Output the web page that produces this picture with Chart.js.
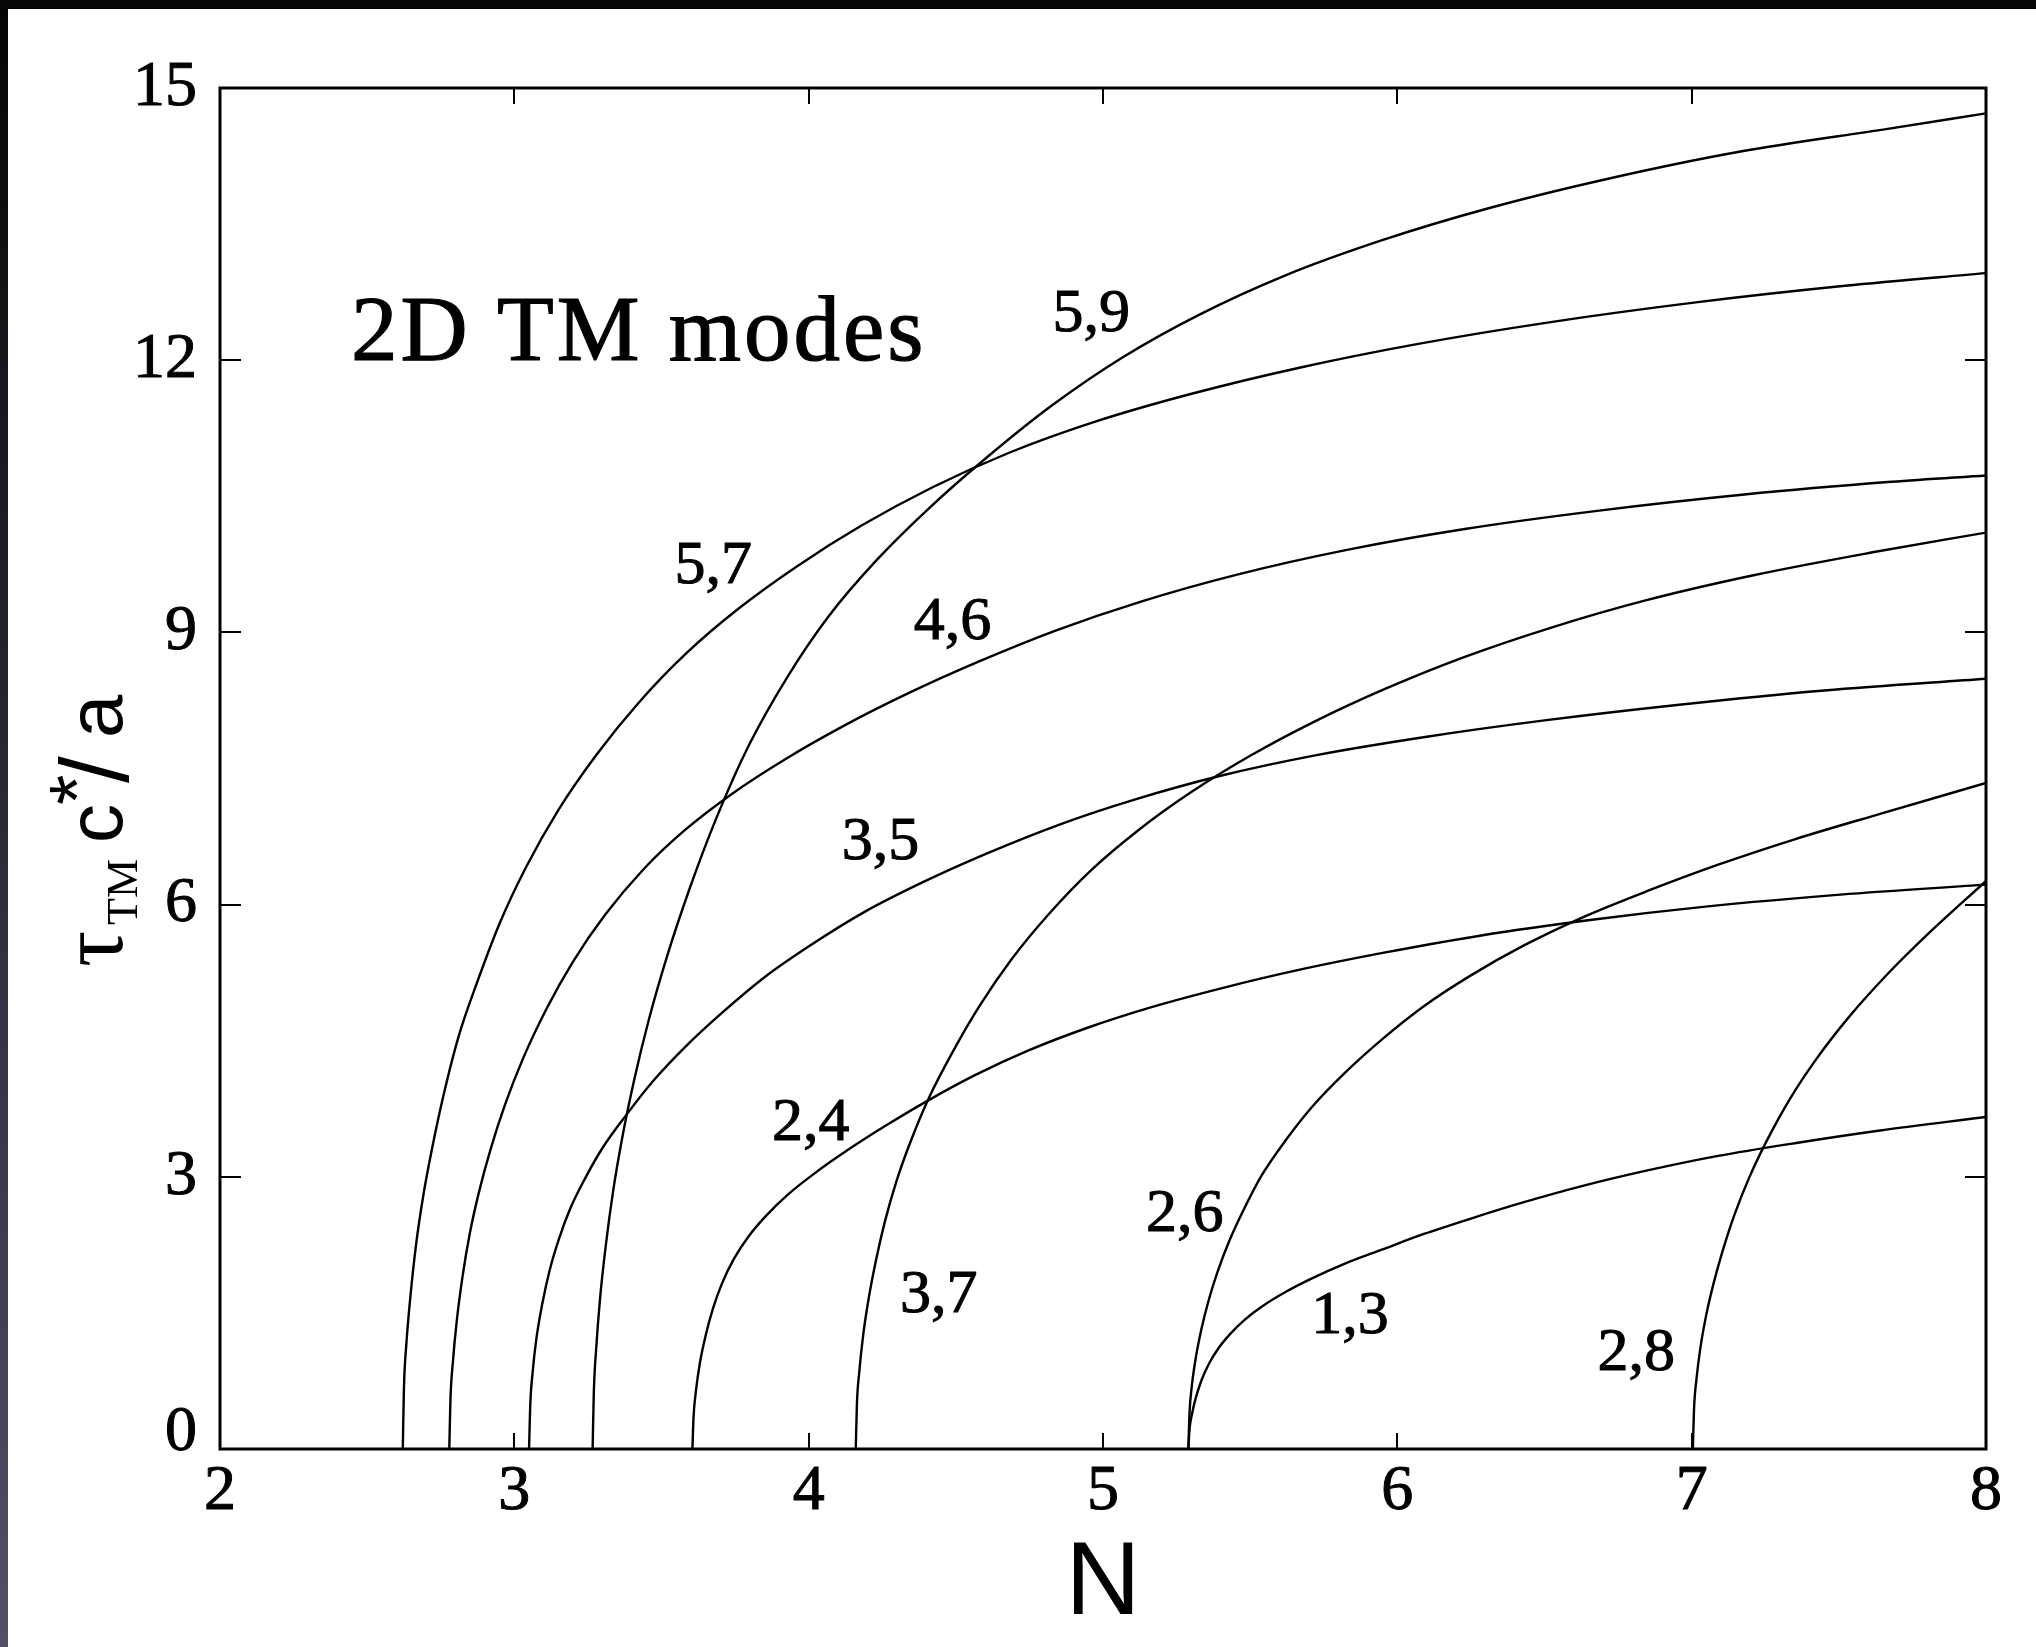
<!DOCTYPE html>
<html>
<head>
<meta charset="utf-8">
<title>2D TM modes</title>
<script src="https://cdn.jsdelivr.net/npm/chart.js@4.4.1/dist/chart.umd.min.js"></script>
<style>
  html, body { margin: 0; padding: 0; background: #fff; }
  #modesChart { display: block; }
</style>
</head>
<body>
<canvas id="modesChart" width="2036" height="1647"></canvas>
<script>
// Mode branches: N values and the matching tau_TM c*/a values
const mode59N = [3.266, 3.270, 3.278, 3.291, 3.311, 3.336, 3.366, 3.406, 3.456, 3.516, 3.596, 3.686, 3.796, 3.926, 4.066, 4.226, 4.406, 4.606, 4.826, 5.066, 5.326, 5.616, 5.946, 6.316, 6.716, 7.166, 7.666, 8.0];
const mode59Tau = [0, 0.62, 1.10, 1.65, 2.25, 2.85, 3.42, 4.05, 4.72, 5.40, 6.18, 6.95, 7.75, 8.50, 9.17, 9.78, 10.36, 10.93, 11.50, 12.03, 12.50, 12.93, 13.32, 13.68, 14.00, 14.30, 14.55, 14.72];

const mode57N = [2.621, 2.625, 2.633, 2.646, 2.666, 2.691, 2.721, 2.761, 2.811, 2.871, 2.951, 3.041, 3.151, 3.281, 3.421, 3.581, 3.761, 3.961, 4.181, 4.421, 4.681, 4.971, 5.301, 5.671, 6.071, 6.521, 7.021, 7.521, 8.0];
const mode57Tau = [0, 0.68, 1.15, 1.65, 2.25, 2.80, 3.32, 3.92, 4.55, 5.12, 5.80, 6.42, 7.05, 7.66, 8.22, 8.76, 9.26, 9.73, 10.18, 10.60, 10.98, 11.32, 11.63, 11.92, 12.18, 12.42, 12.64, 12.82, 12.96];

const mode46N = [2.779, 2.783, 2.791, 2.804, 2.824, 2.849, 2.879, 2.919, 2.969, 3.029, 3.109, 3.199, 3.309, 3.439, 3.579, 3.739, 3.919, 4.119, 4.339, 4.579, 4.839, 5.129, 5.459, 5.829, 6.229, 6.679, 7.179, 7.679, 8.0];
const mode46Tau = [0, 0.55, 0.95, 1.40, 1.90, 2.38, 2.82, 3.30, 3.80, 4.30, 4.85, 5.37, 5.89, 6.39, 6.82, 7.22, 7.60, 7.97, 8.33, 8.68, 9.02, 9.34, 9.64, 9.91, 10.14, 10.34, 10.52, 10.66, 10.73];

const mode35N = [3.050, 3.054, 3.062, 3.075, 3.095, 3.120, 3.150, 3.190, 3.240, 3.300, 3.380, 3.470, 3.580, 3.710, 3.850, 4.010, 4.190, 4.390, 4.610, 4.850, 5.110, 5.400, 5.730, 6.100, 6.500, 6.950, 7.450, 8.0];
const mode35Tau = [0, 0.48, 0.84, 1.22, 1.60, 1.97, 2.30, 2.65, 2.98, 3.32, 3.68, 4.05, 4.43, 4.82, 5.20, 5.56, 5.92, 6.25, 6.57, 6.88, 7.16, 7.42, 7.65, 7.85, 8.03, 8.20, 8.36, 8.49];

const mode24N = [3.605, 3.609, 3.617, 3.630, 3.650, 3.675, 3.705, 3.745, 3.795, 3.855, 3.935, 4.025, 4.135, 4.265, 4.405, 4.565, 4.745, 4.945, 5.165, 5.405, 5.665, 5.955, 6.285, 6.655, 7.055, 7.505, 8.0];
const mode24Tau = [0, 0.36, 0.64, 0.94, 1.25, 1.55, 1.82, 2.09, 2.34, 2.57, 2.82, 3.05, 3.30, 3.57, 3.84, 4.12, 4.39, 4.64, 4.87, 5.08, 5.28, 5.47, 5.66, 5.83, 5.98, 6.11, 6.22];

const mode37N = [4.160, 4.164, 4.172, 4.185, 4.205, 4.230, 4.260, 4.300, 4.350, 4.410, 4.490, 4.580, 4.690, 4.820, 4.960, 5.120, 5.300, 5.500, 5.720, 5.960, 6.220, 6.510, 6.840, 7.210, 7.610, 8.0];
const mode37Tau = [0, 0.50, 0.85, 1.25, 1.68, 2.10, 2.52, 2.97, 3.42, 3.88, 4.38, 4.88, 5.40, 5.91, 6.38, 6.82, 7.24, 7.64, 8.02, 8.38, 8.72, 9.04, 9.35, 9.63, 9.88, 10.10];

const mode26N = [5.290, 5.294, 5.302, 5.315, 5.335, 5.360, 5.390, 5.430, 5.480, 5.540, 5.620, 5.710, 5.820, 5.950, 6.090, 6.250, 6.430, 6.630, 6.850, 7.090, 7.350, 7.640, 8.0];
const mode26Tau = [0, 0.40, 0.70, 1.00, 1.33, 1.65, 1.96, 2.30, 2.65, 3.02, 3.40, 3.77, 4.14, 4.52, 4.88, 5.22, 5.55, 5.86, 6.15, 6.44, 6.72, 7.00, 7.34];

const mode13N = [5.290, 5.294, 5.302, 5.315, 5.335, 5.360, 5.390, 5.430, 5.480, 5.540, 5.620, 5.710, 5.820, 5.950, 6.090, 6.250, 6.430, 6.630, 6.850, 7.090, 7.350, 7.640, 8.0];
const mode13Tau = [0, 0.22, 0.38, 0.56, 0.76, 0.94, 1.10, 1.26, 1.42, 1.57, 1.73, 1.88, 2.04, 2.20, 2.37, 2.54, 2.72, 2.90, 3.07, 3.23, 3.37, 3.51, 3.66];

const mode28N = [7.004, 7.008, 7.016, 7.029, 7.049, 7.074, 7.104, 7.144, 7.194, 7.254, 7.334, 7.424, 7.534, 7.664, 7.804, 8.0];
const mode28Tau = [0, 0.44, 0.76, 1.10, 1.47, 1.82, 2.17, 2.57, 2.98, 3.39, 3.86, 4.30, 4.76, 5.23, 5.68, 6.26];

const modeNames = ["5,9", "5,7", "4,6", "3,5", "2,4", "3,7", "2,6", "1,3", "2,8"];

const xTickValues = [2, 3, 4, 5, 6, 7, 8];
const yTickValues = [0, 3, 6, 9, 12, 15];

const titleText = "2D TM modes";

// where each mode name sits, in axis units (N, tau)
const labelSpots = {
  "5,9": [4.96, 12.5],
  "5,7": [3.676, 9.72],
  "4,6": [4.489, 9.11],
  "3,5": [4.244, 6.68],
  "2,4": [4.007, 3.58],
  "3,7": [4.442, 1.69],
  "2,6": [5.278, 2.58],
  "1,3": [5.839, 1.46],
  "2,8": [6.812, 1.05]
};

const SERIF = "'Liberation Serif', 'Times New Roman', serif";
const SANS = "'Liberation Sans', Arial, sans-serif";

const branches = [
  [mode59N, mode59Tau], [mode57N, mode57Tau], [mode46N, mode46Tau],
  [mode35N, mode35Tau], [mode24N, mode24Tau], [mode37N, mode37Tau],
  [mode26N, mode26Tau], [mode13N, mode13Tau], [mode28N, mode28Tau]
];

const datasets = branches.map(function (b, i) {
  return {
    label: modeNames[i],
    data: b[0].map(function (n, k) { return { x: n, y: b[1][k] }; }),
    borderColor: "#000",
    borderWidth: 2.4,
    pointRadius: 0,
    fill: false,
    cubicInterpolationMode: "monotone"
  };
});

// fill + thin outline so the serif text reads as heavy as the rest
function boldText(ctx, text, x, y) {
  ctx.fillText(text, x, y);
  ctx.strokeText(text, x, y);
}

// page edges, frame, inward ticks and text on the plot
const decorations = {
  id: "decorations",
  beforeDraw(chart) {
    const ctx = chart.ctx;
    ctx.save();
    ctx.fillStyle = "#fff";
    ctx.fillRect(0, 0, chart.width, chart.height);
    const edge = ctx.createLinearGradient(0, 0, 0, chart.height);
    edge.addColorStop(0, "#050505");
    edge.addColorStop(1, "#50506a");
    ctx.fillStyle = edge;
    ctx.fillRect(0, 0, 8, chart.height);
    ctx.fillStyle = "#060606";
    ctx.fillRect(0, 0, chart.width, 9);
    ctx.restore();
  },
  afterDatasetsDraw(chart) {
    const ctx = chart.ctx;
    const a = chart.chartArea;
    const x = chart.scales.x;
    const y = chart.scales.y;
    ctx.save();
    ctx.strokeStyle = "#000";
    ctx.lineWidth = 2;
    ctx.beginPath();
    x.ticks.forEach(function (t) {
      const px = Math.round(x.getPixelForValue(t.value));
      ctx.moveTo(px, a.bottom); ctx.lineTo(px, a.bottom - 16);
      ctx.moveTo(px, a.top); ctx.lineTo(px, a.top + 16);
    });
    y.ticks.forEach(function (t) {
      const py = Math.round(y.getPixelForValue(t.value));
      ctx.moveTo(a.left, py); ctx.lineTo(a.left + 21, py);
      ctx.moveTo(a.right, py); ctx.lineTo(a.right - 21, py);
    });
    ctx.stroke();
    ctx.lineWidth = 3;
    ctx.strokeRect(a.left, a.top, a.right - a.left, a.bottom - a.top);

    // mode names next to their curves
    ctx.fillStyle = "#000";
    ctx.lineWidth = 1;
    ctx.font = "62px " + SERIF;
    ctx.textAlign = "center";
    ctx.textBaseline = "middle";
    modeNames.forEach(function (name) {
      const s = labelSpots[name];
      boldText(ctx, name, x.getPixelForValue(s[0]), y.getPixelForValue(s[1]));
    });

    ctx.font = "93px " + SERIF;
    ctx.letterSpacing = "3px";
    ctx.lineWidth = 1.2;
    ctx.textAlign = "left";
    ctx.textBaseline = "alphabetic";
    boldText(ctx, titleText, x.getPixelForValue(2.445), y.getPixelForValue(12.0));
    ctx.restore();
  },
  afterDraw(chart) {
    const ctx = chart.ctx;
    const a = chart.chartArea;
    ctx.save();
    ctx.fillStyle = "#000";

    // x axis title
    ctx.font = "104px " + SANS;
    ctx.textAlign = "center";
    ctx.textBaseline = "alphabetic";
    ctx.fillText("N", (a.left + a.right) / 2, 1614);

    // y axis title, read bottom to top
    ctx.translate(122, 967);
    ctx.rotate(-Math.PI / 2);
    ctx.textAlign = "left";
    ctx.font = "90px " + SERIF;
    ctx.fillText("τ", 0, 0);
    ctx.font = "44px " + SERIF;
    ctx.fillText("TM", 42, 15);
    ctx.font = "78px " + SANS;
    ctx.fillText("c", 124, 0);
    ctx.fillText("*", 162, -18);
    ctx.font = "96px " + SANS;
    ctx.fillText("/", 184, 6);
    ctx.font = "78px " + SANS;
    ctx.fillText("a", 229, 0);
    ctx.restore();
  }
};

const tickFont = { family: SERIF, size: 64 };

new Chart(document.getElementById("modesChart"), {
  type: "line",
  data: { datasets: datasets },
  options: {
    responsive: false,
    animation: false,
    devicePixelRatio: 1,
    layout: { padding: { left: 0, top: 88, right: 50, bottom: 0 } },
    plugins: { legend: { display: false }, tooltip: { enabled: false } },
    scales: {
      x: {
        type: "linear",
        min: 2,
        max: 8,
        afterBuildTicks: function (scale) {
          scale.ticks = xTickValues.map(function (v) { return { value: v }; });
        },
        afterFit: function (scale) { scale.height = 198; },
        grid: { display: false },
        border: { display: false },
        ticks: {
          color: "#000", font: tickFont, padding: -3, maxRotation: 0, autoSkip: false,
          textStrokeColor: "#000", textStrokeWidth: 1
        }
      },
      y: {
        type: "linear",
        min: 0,
        max: 15,
        afterBuildTicks: function (scale) {
          scale.ticks = yTickValues.map(function (v) { return { value: v }; });
        },
        afterFit: function (scale) { scale.width = 220; },
        grid: { display: false },
        border: { display: false },
        ticks: {
          color: "#000",
          padding: 15,
          autoSkip: false,
          textStrokeColor: "#000",
          textStrokeWidth: 1,
          // the 0 label sits a little above its tick
          callback: function (v) { return v === 0 ? ["0", ""] : String(v); },
          font: function (c) {
            const zero = c.tick && c.tick.value === 0;
            return { family: SERIF, size: 64, lineHeight: zero ? "32px" : 1.2 };
          }
        }
      }
    }
  },
  plugins: [decorations]
});
</script>
</body>
</html>
